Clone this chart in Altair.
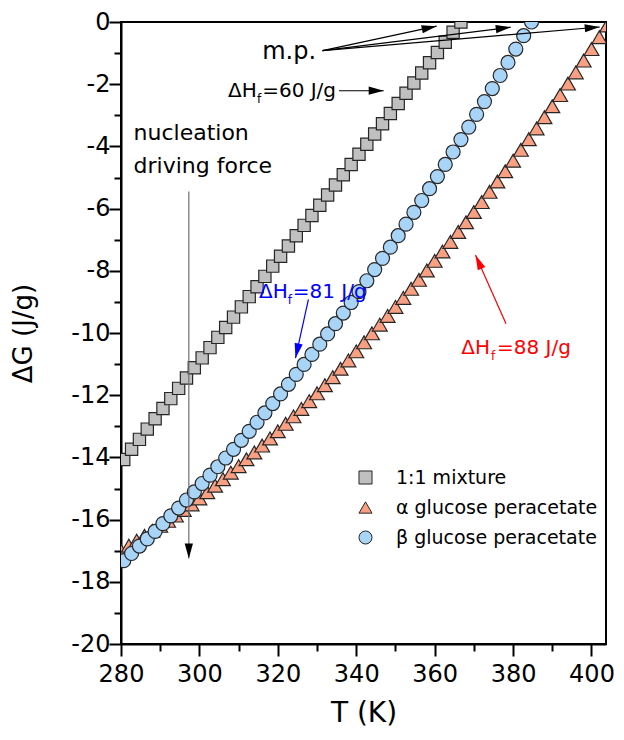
import math
import altair as alt
import pandas as pd

# ---------------- data ----------------
mix_T = [280.7, 282.7, 284.7, 286.7, 288.7, 290.7, 292.7, 294.7, 296.7, 298.7,
         300.7, 302.7, 304.7, 306.7, 308.7, 310.7, 312.7, 314.7, 316.7, 318.7,
         320.7, 322.7, 324.7, 326.7, 328.7, 330.7, 332.7, 334.7, 336.7, 338.7,
         340.7, 342.7, 344.7, 346.7, 348.7, 350.7, 352.7, 354.7, 356.7, 358.7,
         360.7, 362.7, 364.7, 366.7]
mix_G = [-14.07, -13.74, -13.42, -13.09, -12.76, -12.43, -12.11, -11.78, -11.45, -11.12,
         -10.80, -10.47, -10.14, -9.82, -9.49, -9.16, -8.83, -8.51, -8.18, -7.85,
         -7.53, -7.20, -6.87, -6.54, -6.22, -5.89, -5.56, -5.24, -4.91, -4.58,
         -4.25, -3.93, -3.60, -3.27, -2.94, -2.62, -2.29, -1.96, -1.64, -1.31,
         -0.98, -0.65, -0.33, 0.00]

beta_T = [280.7, 282.7, 284.7, 286.7, 288.7, 290.7, 292.7, 294.7, 296.7, 298.7,
          300.7, 302.7, 304.7, 306.7, 308.7, 310.7, 312.7, 314.7, 316.7, 318.7,
          320.7, 322.7, 324.7, 326.7, 328.7, 330.7, 332.7, 334.7, 336.7, 338.7,
          340.7, 342.7, 344.7, 346.7, 348.7, 350.7, 352.7, 354.7, 356.7, 358.7,
          360.7, 362.7, 364.7, 366.7, 368.7, 370.7, 372.7, 374.7, 376.7, 378.7,
          380.7, 382.7, 384.7]
beta_G = [-17.32, -17.09, -16.85, -16.62, -16.38, -16.13, -15.88, -15.63, -15.37, -15.11,
          -14.84, -14.57, -14.30, -14.02, -13.74, -13.45, -13.16, -12.87, -12.57, -12.27,
          -11.96, -11.65, -11.33, -11.01, -10.69, -10.36, -10.03, -9.70, -9.36, -9.02,
          -8.67, -8.32, -7.96, -7.60, -7.24, -6.87, -6.50, -6.12, -5.74, -5.36,
          -4.97, -4.58, -4.18, -3.78, -3.38, -2.97, -2.56, -2.14, -1.72, -1.30,
          -0.87, -0.44, 0.00]

alpha_T = [280, 282, 284, 286, 288, 290, 292, 294, 296, 298,
           300, 302, 304, 306, 308, 310, 312, 314, 316, 318,
           320, 322, 324, 326, 328, 330, 332, 334, 336, 338,
           340, 342, 344, 346, 348, 350, 352, 354, 356, 358,
           360, 362, 364, 366, 368, 370, 372, 374, 376, 378,
           380, 382, 384, 386, 388, 390, 392, 394, 396, 398,
           400, 402, 404]
alpha_G = [-17.00, -16.84, -16.68, -16.52, -16.36, -16.20, -16.04, -15.87, -15.69, -15.51,
           -15.32, -15.12, -14.91, -14.70, -14.49, -14.28, -14.06, -13.84, -13.62, -13.39,
           -13.16, -12.92, -12.68, -12.44, -12.19, -11.94, -11.68, -11.42, -11.15, -10.88,
           -10.59, -10.30, -10.01, -9.73, -9.45, -9.16, -8.87, -8.58, -8.29, -7.99,
           -7.68, -7.38, -7.07, -6.75, -6.44, -6.11, -5.79, -5.46, -5.13, -4.80,
           -4.46, -4.11, -3.77, -3.42, -3.06, -2.71, -2.35, -1.98, -1.62, -1.24,
           -0.87, -0.49, -0.11]

series_names = ["1:1 mixture", "α glucose peracetate", "β glucose peracetate"]
x_ticks = [280, 290, 300, 310, 320, 330, 340, 350, 360, 370, 380, 390, 400]
y_ticks = [-20, -19, -18, -17, -16, -15, -14, -13, -12, -11, -10,
           -9, -8, -7, -6, -5, -4, -3, -2, -1, 0]

# annotation anchors (data units): arrows from (t1,g1) to tip (t2,g2)
arrow_t1 = [331.4, 331.4, 331.4, 335.6, 297.3, 327.8, 378.2]
arrow_g1 = [-0.92, -0.92, -0.92, -2.21, -5.45, -8.92, -9.70]
arrow_t2 = [360.5, 379.4, 402.1, 347.0, 297.3, 324.5, 370.4]
arrow_g2 = [-0.135, -0.167, -0.16, -2.21, -17.25, -10.81, -7.49]
arrow_line_color = ["black", "black", "black", "black", "#707070", "#0000ff", "#ff0000"]
arrow_head_color = ["black", "black", "black", "black", "black", "#0000ff", "#ff0000"]

label_text = ["m.p.", "ΔH", "f", "=60 J/g", "nucleation", "driving force",
              "ΔH", "f", "=81 J/g", "ΔH", "f", "=88 J/g"]
label_t = [316.0, 307.3, 314.7, 316.0, 283.2, 283.2,
           315.2, 322.5, 323.8, 366.8, 374.4, 375.9]
label_g = [-1.19, -2.41, -2.61, -2.41, -3.78, -4.87,
           -8.88, -9.08, -8.88, -10.68, -10.87, -10.68]
label_size = [24, 20, 12, 20, 22, 22, 20, 12, 20, 20, 12, 20]
label_color = ["black", "black", "black", "black", "black", "black",
               "#0000ff", "#0000ff", "#0000ff", "#ff0000", "#ff0000", "#ff0000"]

# ---------------- chart ----------------
FONT = "DejaVu Sans"
W, H = 485, 622
X_DOM = [280, 403.7]
Y_DOM = [-20, 0]
EDGE = "#262626"

xscale = alt.Scale(domain=X_DOM, nice=False, zero=False)
yscale = alt.Scale(domain=Y_DOM, nice=False, zero=False)

x_axis = alt.Axis(
    values=x_ticks, labelExpr="datum.value % 20 == 0 ? '' + datum.value : ''",
    tickSize={"condition": {"test": "datum.value % 20 == 0", "value": 12}, "value": 7},
    tickWidth=2, tickColor="black", domainColor="black", domainWidth=2,
    labelFont=FONT, labelFontSize=24, labelColor="black", labelPadding=6,
    labelFlush=False, labelOverlap=False, grid=False,
    titleFont=FONT, titleFontSize=28, titleFontWeight="normal", titleColor="black",
    titleX=W / 2, titleY=69, titleBaseline="middle", titleAlign="center",
)
y_axis = alt.Axis(
    values=y_ticks, labelExpr="datum.value % 2 == 0 ? '' + datum.value : ''",
    tickSize={"condition": {"test": "datum.value % 2 == 0", "value": 12}, "value": 7},
    tickWidth=2, tickColor="black", domainColor="black", domainWidth=2,
    labelFont=FONT, labelFontSize=24, labelColor="black", labelPadding=-1,
    labelFlush=False, labelOverlap=False, grid=False,
    titleFont=FONT, titleFontSize=26, titleFontWeight="normal", titleColor="black",
    titleX=-98, titleY=H / 2, titleAngle=270, titleBaseline="middle", titleAlign="center",
)


def X(field):
    return alt.X(field, scale=xscale, axis=x_axis, title="T (K)")


def Y(field):
    return alt.Y(field, scale=yscale, axis=y_axis, title="ΔG (J/g)")


legend = alt.Legend(
    title=None, orient="none", legendX=235, legendY=446, padding=0,
    labelFont=FONT, labelFontSize=19, labelColor="black", labelOffset=21,
    labelLimit=0, rowPadding=10, symbolSize=170, symbolStrokeWidth=1,
)
shape_enc = alt.Shape("series:N", scale=alt.Scale(domain=series_names,
                      range=["square", "triangle-up", "circle"]), legend=legend)
fill_enc = alt.Fill("series:N", scale=alt.Scale(domain=series_names,
                    range=["#c0c0c0", "#f9a083", "#a8d4f8"]), legend=legend)
stroke_enc = alt.Stroke("series:N", scale=alt.Scale(domain=series_names,
                        range=[EDGE, EDGE, EDGE]), legend=legend)


def series_layer(T, G, name, size):
    d = pd.DataFrame({"T": T, "G": G, "series": [name] * len(T)})
    return alt.Chart(d).mark_point(filled=True, opacity=1, strokeWidth=1.2,
                                   size=size, clip=True).encode(
        x=X("T:Q"), y=Y("G:Q"), shape=shape_enc, fill=fill_enc, stroke=stroke_enc)


alpha_layer = series_layer(alpha_T, alpha_G, series_names[1], 220)
beta_layer = series_layer(beta_T, beta_G, series_names[2], 196)
mix_layer = series_layer(mix_T, mix_G, series_names[0], 150)

px_t = W / (X_DOM[1] - X_DOM[0])
px_g = H / (Y_DOM[1] - Y_DOM[0])
arr = pd.DataFrame({"t1": arrow_t1, "g1": arrow_g1, "t2": arrow_t2, "g2": arrow_g2,
                    "lc": arrow_line_color, "hc": arrow_head_color})
arr["ang"] = [math.degrees(math.atan2(-(b2 - b1) * px_g, (a2 - a1) * px_t)) % 360
              for a1, b1, a2, b2 in zip(arrow_t1, arrow_g1, arrow_t2, arrow_g2)]

lines = alt.Chart(arr).mark_rule(strokeWidth=1.2).encode(
    x=X("t1:Q"), y=Y("g1:Q"), x2="t2:Q", y2="g2:Q",
    color=alt.Color("lc:N", scale=None),
)
heads = alt.Chart(arr).mark_point(shape="M0,0L-2,-0.55L-2,0.55Z", filled=True,
                                   opacity=1, size=225, strokeWidth=0).encode(
    x=X("t2:Q"), y=Y("g2:Q"),
    angle=alt.Angle("ang:Q", scale=None),
    color=alt.Color("hc:N", scale=None),
)

lab = pd.DataFrame({"t": label_t, "g": label_g, "txt": label_text,
                    "fs": label_size, "col": label_color})
texts = alt.Chart(lab).mark_text(align="left", baseline="alphabetic", font=FONT).encode(
    x=X("t:Q"), y=Y("g:Q"),
    text="txt:N",
    size=alt.Size("fs:Q", scale=None),
    color=alt.Color("col:N", scale=None),
)

chart = alt.layer(alpha_layer, beta_layer, mix_layer, lines, heads, texts).properties(
    width=W, height=H,
    autosize=alt.AutoSizeParams(type="none"),
    padding={"left": 113, "top": 14, "right": 10, "bottom": 84},
    background="white",
).configure_view(stroke="black", strokeWidth=2)

chart.save("out.html", embed_options={"renderer": "svg", "actions": False})
